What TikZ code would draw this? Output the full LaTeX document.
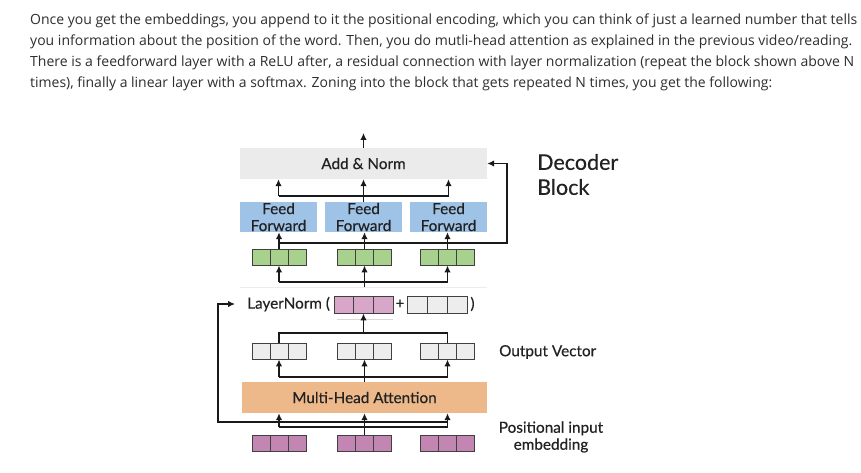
\documentclass[tikz,border=0pt]{standalone}
\usepackage{fontspec}
\setmainfont{Open Sans}
\newfontfamily\lato{Lato}[FakeBold=0.35]
\usetikzlibrary{arrows.meta,calc}
\definecolor{txt}{HTML}{2E2E2E}
\definecolor{dtxt}{HTML}{222222}
\definecolor{addnorm}{HTML}{EBEBEB}
\definecolor{ffblue}{HTML}{9FC3E7}
\definecolor{cellgreen}{HTML}{A9D18E}
\definecolor{pinklt}{HTML}{D8A6C8}
\definecolor{pinkdk}{HTML}{C386B3}
\definecolor{cellgray}{HTML}{EDEDED}
\definecolor{mhaor}{HTML}{EDB98B}
\newsavebox\linebox
\newcommand\fitline[2]{\sbox\linebox{#2}\edef\lw{\the\wd\linebox}\pgfmathsetmacro\lscale{#1/\lw}\scalebox{\lscale}[1]{\usebox\linebox}}
\tikzset{
  vecbox/.style={draw=black!75, line width=0.9pt, minimum width=54pt, minimum height=16pt, inner sep=0pt,
    path picture={
      \draw[black!75,line width=0.9pt]
        ($(path picture bounding box.north west)!1/3!(path picture bounding box.north east)$) --
        ($(path picture bounding box.south west)!1/3!(path picture bounding box.south east)$)
        ($(path picture bounding box.north west)!2/3!(path picture bounding box.north east)$) --
        ($(path picture bounding box.south west)!2/3!(path picture bounding box.south east)$);
    }},
  conn/.style={line width=1.4pt, draw=black!90},
  arr/.style={conn, -{Latex[length=7pt,width=6.5pt]}},
  block/.style={inner sep=0pt, font=\lato\fontsize{15.3}{17}\selectfont, text=dtxt, align=center},
  lbl/.style={inner sep=0pt, text=dtxt, font=\lato\fontsize{15.3}{17}\selectfont},
  para/.style={inner sep=0pt, anchor=base west, text=txt, font=\fontsize{14}{17}\selectfont},
}
\begin{document}
\begin{tikzpicture}[x=1pt,y=-1pt]
\useasboundingbox[fill=white] (0,0) rectangle (861,473);
% paragraph
\node[para] (t1) at (30,24.5) {\fitline{827}{Once you get the embeddings, you append to it the positional encoding, which you can think of just a learned number that tells}};
\node[para] (t2) at (30,45.5) {\fitline{822}{you information about the position of the word. Then, you do mutli-head attention as explained in the previous video/reading.}};
\node[para] (t3) at (30,66.5) {\fitline{824}{There is a feedforward layer with a ReLU after, a residual connection with layer normalization (repeat the block shown above N}};
\node[para] (t4) at (30,87.5) {\fitline{742}{times), finally a linear layer with a softmax. Zoning into the block that gets repeated N times, you get the following:}};
% faint lines
\draw[gray!15, line width=0.8pt] (240,287) -- (487,287);
\draw[gray!30, line width=0.8pt] (337,319) -- (393,319);
% blocks
\node[block, fill=addnorm, minimum width=247pt, minimum height=31pt] (an) at (363.5,163.5) {Add \& Norm};
\node[block, fill=ffblue, minimum width=77pt, minimum height=30pt] (ff1) at (278.5,217) {Feed\\Forward};
\node[block, fill=ffblue, minimum width=77pt, minimum height=30pt] (ff2) at (363.5,217) {Feed\\Forward};
\node[block, fill=ffblue, minimum width=77pt, minimum height=30pt] (ff3) at (448.5,217) {Feed\\Forward};
\node[vecbox, fill=cellgreen] (g1) at (279,257) {};
\node[vecbox, fill=cellgreen] (g2) at (364.5,257) {};
\node[vecbox, fill=cellgreen] (g3) at (447.5,257) {};
\node[lbl, anchor=west] (ln) at (247,304) {LayerNorm (};
\node[vecbox, fill=pinklt, minimum width=59pt, minimum height=17pt] (lp) at (363.5,304.5) {};
\node[lbl] (plus) at (400,304) {+};
\node[vecbox, fill=cellgray, minimum width=60pt, minimum height=17pt] (lg) at (437,304.5) {};
\node[lbl] (rpar) at (472.5,304) {)};
\node[vecbox, fill=cellgray] (o1) at (279,351) {};
\node[vecbox, fill=cellgray] (o2) at (364.5,351) {};
\node[vecbox, fill=cellgray] (o3) at (447.5,351) {};
\node[block, fill=mhaor, minimum width=245pt, minimum height=31pt] (mha) at (364.5,397.5) {Multi-Head Attention};
\node[vecbox, fill=pinkdk] (p1) at (279,443) {};
\node[vecbox, fill=pinkdk] (p2) at (364.5,443) {};
\node[vecbox, fill=pinkdk] (p3) at (447.5,443) {};
% labels
\node[lbl, anchor=west, align=left, font=\lato\fontsize{21.5}{25}\selectfont] (dec) at (537,174.5) {Decoder\\Block};
\node[lbl, anchor=west] (ov) at (499,352) {Output Vector};
\node[lbl, align=center] (pie) at (551,437) {Positional input\\embedding};
% top output
\coordinate (top) at (363.5,133);
\draw[arr] (an.north) -- (top);
% feed forward -> add & norm
\coordinate (ffj) at (363.5,196);
\draw[conn] (ff2.north) -- (ffj);
\draw[conn] (ffj -| ff1.north) -- (ffj -| ff3.north);
\draw[arr] (ffj -| ff1.north) -- (ff1.north |- an.south);
\draw[arr] (ffj) -- (an.south);
\draw[arr] (ffj -| ff3.north) -- (ff3.north |- an.south);
% green -> feed forward
\draw[arr] (g1.north) -- (g1.north |- ff1.south);
\draw[arr] (g2.north) -- (g2.north |- ff2.south);
\draw[arr] (g3.north) -- (g3.north |- ff3.south);
% residual around feed forward
\coordinate (rr) at (507,243);
\draw[arr] (g1.north |- rr) -- (rr) -- (rr |- an.east) -- (an.east);
% layernorm -> green
\coordinate (gj) at (364.5,282);
\coordinate (gs) at (364.5,287);
\draw[conn] (gs) -- (gj);
\draw[conn] (gj -| g1.south) -- (gj -| g3.south);
\draw[arr] (gj -| g1.south) -- (g1.south);
\draw[arr] (gj) -- (g2.south);
\draw[arr] (gj -| g3.south) -- (g3.south);
% output vectors -> layernorm
\coordinate (oj) at (363.5,333);
\draw[arr] (oj) -- (lp.south);
\draw[conn] (o1.north) -- (o1.north |- oj) -- (o3.north |- oj) -- (o3.north);
% mha -> output vectors
\coordinate (mj) at (364.5,377);
\draw[conn] (mha.north) -- (mj);
\draw[conn] (mj -| o1.south) -- (mj -| o3.south);
\draw[arr] (mj -| o1.south) -- (o1.south);
\draw[arr] (mj) -- (o2.south);
\draw[arr] (mj -| o3.south) -- (o3.south);
% input -> mha
\coordinate (ij) at (364.5,427);
\draw[arr] (p2.north) -- (p2.north |- mha.south);
\draw[conn] (ij -| p1.north) -- (ij -| p3.north);
\draw[arr] (ij -| p1.north) -- (p1.north |- mha.south);
\draw[arr] (ij -| p3.north) -- (p3.north |- mha.south);
% residual to layernorm
\coordinate (rl) at (218,422);
\draw[arr] (p3.north |- rl) -- (rl) -- (rl |- ln.west) -- ([xshift=-12pt]ln.west);
\end{tikzpicture}
\end{document}
